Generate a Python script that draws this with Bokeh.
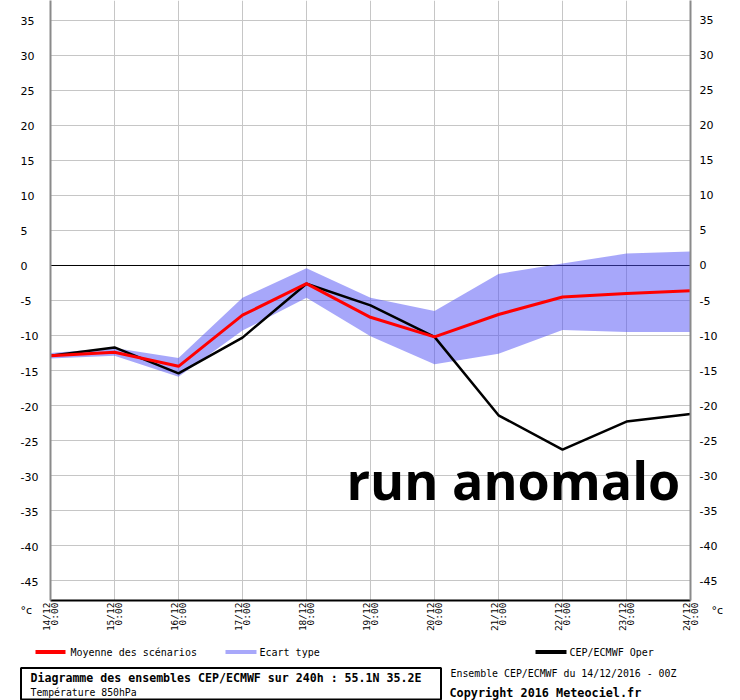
from math import pi
from bokeh.plotting import figure
from bokeh.models import Range1d, LinearAxis, FixedTicker, Span, Label
from bokeh.layouts import column
from bokeh.embed import file_html
from bokeh.resources import INLINE
from bokeh.core.properties import value

# ---------------- data ----------------
days = list(range(11))
day_labels = ["14/12\n0:00", "15/12\n0:00", "16/12\n0:00", "17/12\n0:00", "18/12\n0:00",
              "19/12\n0:00", "20/12\n0:00", "21/12\n0:00", "22/12\n0:00", "23/12\n0:00",
              "24/12\n0:00"]
mean = [-12.9, -12.4, -14.4, -7.1, -2.6, -7.4, -10.2, -7.0, -4.5, -4.0, -3.6]
oper = [-12.9, -11.7, -15.4, -10.3, -2.6, -5.7, -10.2, -21.4, -26.3, -22.3, -21.2]
spread_upper = [-12.5, -11.8, -13.2, -4.6, -0.4, -4.6, -6.5, -1.2, 0.3, 1.7, 2.0]
spread_lower = [-13.3, -12.9, -15.9, -9.3, -4.6, -10.1, -14.1, -12.6, -9.2, -9.5, -9.5]
y_ticks = list(range(-45, 40, 5))
y_tick_labels = [str(v) for v in y_ticks]
unit_label = "°c"
legend_labels = ["Moyenne des scénarios", "Ecart type", "CEP/ECMWF Oper"]
info_title = "Diagramme des ensembles CEP/ECMWF sur 240h : 55.1N 35.2E"
info_sub = "Température 850hPa"
run_info = "Ensemble CEP/ECMWF du 14/12/2016 - 00Z"
copyright_txt = "Copyright 2016 Meteociel.fr"
annotation = "run anomalo"

RED = "#ff0000"
BAND = "#5050f5"
BAND_SWATCH = "#a8a8fa"
GRID = "#c6c6c6"
AXIS_GRAY = "#8a8a8a"

Y_LO, Y_HI = -47.857, 37.857

# ---------------- main plot ----------------
p = figure(width=740, height=645, x_range=Range1d(0, 10),
           y_range=Range1d(Y_LO, Y_HI),
           output_backend="svg", toolbar_location=None,
           min_border_left=50, min_border_right=50, min_border_top=0,
           min_border_bottom=45, outline_line_color=None,
           background_fill_color="white", border_fill_color="white")

p.xgrid.ticker = FixedTicker(ticks=days)
p.ygrid.ticker = FixedTicker(ticks=y_ticks)
p.grid.grid_line_color = GRID
p.grid.grid_line_width = 1

xa = p.xaxis[0]
xa.ticker = FixedTicker(ticks=days)
xa.major_label_overrides = {d: lab for d, lab in zip(days, day_labels)}
xa.major_label_orientation = pi / 2
xa.major_label_standoff = 2
xa.major_tick_out = 0
xa.major_tick_in = 0
xa.minor_tick_out = 0
xa.minor_tick_in = 0
xa.axis_line_color = "black"
xa.axis_line_width = 2
xa.major_label_text_font = "DejaVu Sans Mono"
xa.major_label_text_font_size = "9.5px"
xa.major_label_text_line_height = 0.78
xa.major_label_text_color = "black"

# left axis: line only; its (left-aligned) labels are drawn on the overlay below
ya = p.yaxis[0]
ya.ticker = FixedTicker(ticks=y_ticks)
ya.major_label_text_color = None
ya.major_tick_out = 0
ya.major_tick_in = 0
ya.minor_tick_out = 0
ya.minor_tick_in = 0
ya.axis_line_color = AXIS_GRAY
ya.axis_line_width = 2

yr = LinearAxis(ticker=FixedTicker(ticks=y_ticks),
                major_label_overrides={v: l for v, l in zip(y_ticks, y_tick_labels)})
yr.major_label_standoff = 9
yr.major_tick_out = 0
yr.major_tick_in = 0
yr.minor_tick_out = 0
yr.minor_tick_in = 0
yr.axis_line_color = AXIS_GRAY
yr.axis_line_width = 2
yr.major_label_text_font = "DejaVu Sans"
yr.major_label_text_font_size = "11px"
yr.major_label_text_color = "black"
p.add_layout(yr, "right")

zero = Span(location=0, dimension="width", line_color="black", line_width=1, level="underlay")
p.add_layout(zero)

p.varea(x=days, y1=spread_lower, y2=spread_upper, fill_color=BAND, fill_alpha=0.5)
p.line(days, oper, line_color="black", line_width=2.5)
p.line(days, mean, line_color=RED, line_width=3)

p.add_layout(Label(x=4.625, y=-30.57, text=annotation, text_font="Open Sans",
                   text_font_style="bold", text_font_size="52px",
                   text_baseline="alphabetic", text_align="left", text_color="black"))

# ---------------- transparent full-page overlay (page pixel coordinates) ----------------
p2 = figure(width=740, height=700, x_range=Range1d(0, 740), y_range=Range1d(700, 0),
            output_backend="svg", toolbar_location=None, min_border=0,
            min_border_left=0, min_border_right=0, min_border_top=0, min_border_bottom=0,
            x_axis_location=None, y_axis_location=None, outline_line_color=None,
            background_fill_alpha=0, border_fill_alpha=0, margin=(-645, 0, 0, 0))
p2.grid.visible = False
try:
    p2.frame_align = False
except Exception:
    pass
# temperature scale matching the main plot (7 px per degree, 0 at y=265)
p2.extra_y_ranges = {"temp": Range1d(Y_LO - 100 / 7, Y_HI)}

p2.text(x=[20] * len(y_ticks), y=y_ticks, text=y_tick_labels, y_range_name="temp",
        text_font=value("DejaVu Sans"), text_font_size="11px",
        text_baseline="middle", text_align="left", text_color="black", y_offset=1)

p2.text(x=[20, 711], y=[610, 610], text=[unit_label, unit_label],
        text_font=value("DejaVu Sans"), text_font_size="11px",
        text_baseline="alphabetic", text_color="black")

p2.segment(x0=[35, 225, 535], x1=[65, 256, 566], y0=[651.5] * 3, y1=[651.5] * 3,
           line_color=[RED, BAND_SWATCH, "black"], line_width=4)
p2.text(x=[70, 259, 569], y=[652] * 3, text=legend_labels,
        text_font=value("DejaVu Sans Mono"), text_font_size="10px",
        text_baseline="middle", text_color="black")

p2.quad(left=[20.5], right=[440.5], top=[667.5], bottom=[699],
        fill_color=None, line_color="black", line_width=2)
p2.text(x=[30], y=[677.5], text=[info_title], text_font=value("DejaVu Sans Mono"),
        text_font_style="bold", text_font_size="11.6px", text_baseline="middle")
p2.text(x=[30], y=[692], text=[info_sub], text_font=value("DejaVu Sans Mono"),
        text_font_size="9.8px", text_baseline="middle")
p2.text(x=[450], y=[672.5], text=[run_info], text_font=value("DejaVu Sans Mono"),
        text_font_size="9.9px", text_baseline="middle")
p2.text(x=[449], y=[692.5], text=[copyright_txt], text_font=value("DejaVu Sans Mono"),
        text_font_style="bold", text_font_size="11.8px", text_baseline="middle")

layout = column(p, p2, spacing=0)

open("out.html", "w").write(file_html(layout, INLINE))
